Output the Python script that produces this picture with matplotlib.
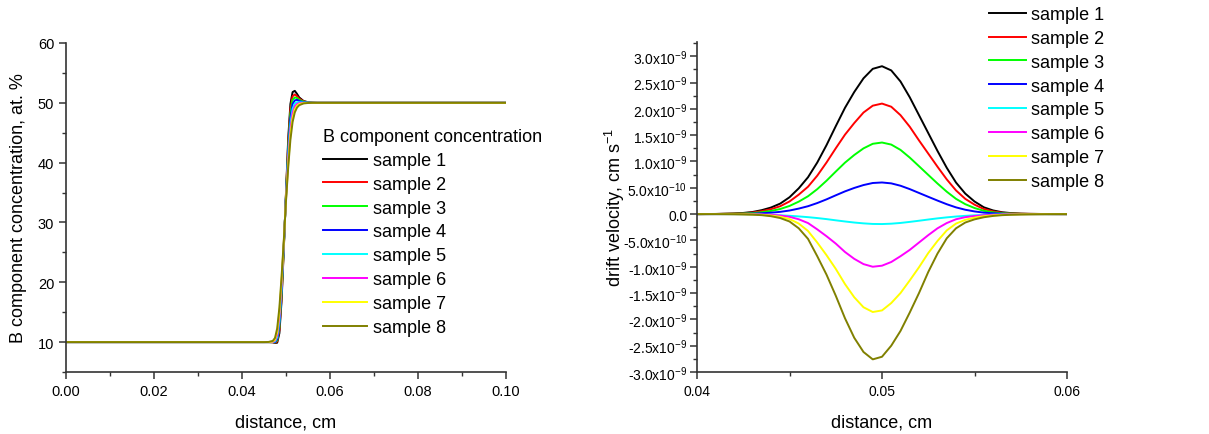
import numpy as np
import matplotlib
matplotlib.use('Agg')
from matplotlib import pyplot as plt
from matplotlib.ticker import MultipleLocator, FixedLocator, FuncFormatter

plt.rcParams['font.family'] = ['Liberation Sans', 'DejaVu Sans']
plt.rcParams['mathtext.default'] = 'regular'
plt.rcParams['axes.unicode_minus'] = False

labels = ['sample 1', 'sample 2', 'sample 3', 'sample 4',
          'sample 5', 'sample 6', 'sample 7', 'sample 8']
colors = ['#000000', '#ff0000', '#00ff00', '#0000ff',
          '#00ffff', '#ff00ff', '#ffff00', '#808000']

# ---- concentration profiles (at. %) ----
x_conc = [0.0, 0.045, 0.046, 0.047, 0.0475, 0.048, 0.0485, 0.049, 0.0495, 0.050, 0.0505,
          0.051, 0.0515, 0.052, 0.0525, 0.053, 0.054, 0.055, 0.056, 0.057, 0.06, 0.1]
c1 = [10, 10, 10, 9.97, 9.85, 9.9, 11.5, 17, 25.5, 35, 44, 49.8, 51.8, 52.0, 51.5, 50.9, 50.3, 50.1, 50.02, 50, 50, 50]
c2 = [10, 10, 10, 9.98, 9.9, 10.1, 12, 17.5, 25.8, 34.8, 43.3, 49, 51.1, 51.4, 51.1, 50.7, 50.25, 50.08, 50.02, 50, 50, 50]
c3 = [10, 10, 10, 10, 9.95, 10.3, 12.5, 18, 26, 34.6, 42.6, 48.2, 50.5, 50.9, 50.8, 50.5, 50.2, 50.06, 50.02, 50, 50, 50]
c4 = [10, 10, 10, 10, 10, 10.5, 13, 18.6, 26.2, 34.4, 41.9, 47.4, 49.8, 50.4, 50.5, 50.3, 50.1, 50.04, 50.01, 50, 50, 50]
c5 = [10, 10, 10, 10.02, 10.1, 10.8, 13.6, 19.2, 26.4, 34.2, 41.2, 46.5, 49.0, 49.9, 50.1, 50.1, 50.05, 50.02, 50, 50, 50, 50]
c6 = [10, 10, 10, 10.05, 10.25, 11.2, 14.3, 19.8, 26.6, 34, 40.5, 45.6, 48.3, 49.4, 49.8, 49.95, 50, 50, 50, 50, 50, 50]
c7 = [10, 10, 10, 10.1, 10.4, 11.7, 15, 20.4, 26.8, 33.8, 39.8, 44.7, 47.5, 48.9, 49.5, 49.8, 49.95, 50, 50, 50, 50, 50]
c8 = [10, 10, 10.02, 10.2, 10.7, 12.3, 15.8, 21, 27, 33.6, 39.2, 43.8, 46.8, 48.4, 49.2, 49.6, 49.9, 49.97, 50, 50, 50, 50]
conc = [c1, c2, c3, c4, c5, c6, c7, c8]

# ---- drift velocity (units of 1e-9 cm/s) ----
x_vel = [0.040, 0.041, 0.042, 0.0425, 0.043, 0.0435, 0.044, 0.0445, 0.045, 0.0455, 0.046, 0.0465,
         0.047, 0.0475, 0.048, 0.0485, 0.049, 0.0495, 0.050, 0.0505, 0.051, 0.0515, 0.052, 0.0525,
         0.053, 0.0535, 0.054, 0.0545, 0.055, 0.0555, 0.056, 0.0565, 0.057, 0.0575, 0.058, 0.059, 0.060]
v1 = [0, 0.003, 0.012, 0.022, 0.040, 0.075, 0.125, 0.20, 0.32, 0.49, 0.70, 0.98,
      1.31, 1.67, 2.02, 2.32, 2.58, 2.76, 2.81, 2.73, 2.52, 2.22, 1.88, 1.54,
      1.20, 0.88, 0.60, 0.39, 0.24, 0.13, 0.07, 0.035, 0.018, 0.009, 0.005, 0.001, 0]
v2 = [0, 0.002, 0.009, 0.016, 0.030, 0.056, 0.093, 0.15, 0.24, 0.37, 0.52, 0.73,
      0.98, 1.25, 1.51, 1.73, 1.93, 2.06, 2.10, 2.04, 1.88, 1.66, 1.40, 1.15,
      0.90, 0.66, 0.45, 0.29, 0.18, 0.097, 0.052, 0.026, 0.013, 0.007, 0.004, 0.001, 0]
v3 = [0, 0.0015, 0.006, 0.011, 0.019, 0.036, 0.060, 0.097, 0.155, 0.237, 0.339, 0.474,
      0.634, 0.808, 0.978, 1.123, 1.249, 1.336, 1.36, 1.321, 1.220, 1.074, 0.910, 0.745,
      0.581, 0.426, 0.290, 0.189, 0.116, 0.063, 0.034, 0.017, 0.009, 0.004, 0.002, 0.0005, 0]
v4 = [0, 0.0006, 0.0026, 0.0047, 0.0086, 0.016, 0.027, 0.043, 0.068, 0.105, 0.150, 0.210,
      0.280, 0.357, 0.432, 0.497, 0.552, 0.591, 0.601, 0.584, 0.539, 0.475, 0.402, 0.329,
      0.257, 0.188, 0.128, 0.083, 0.051, 0.028, 0.015, 0.0075, 0.004, 0.002, 0.001, 0.0002, 0]
v5 = [0, -0.0005, -0.002, -0.004, -0.007, -0.011, -0.016, -0.023, -0.032, -0.044, -0.058, -0.075,
      -0.095, -0.118, -0.140, -0.160, -0.176, -0.187, -0.189, -0.182, -0.168, -0.148, -0.126, -0.103,
      -0.081, -0.062, -0.046, -0.033, -0.023, -0.016, -0.011, -0.007, -0.0045, -0.003, -0.002, -0.0005, 0]
v6 = [0, 0, -0.0007, -0.0018, -0.0036, -0.007, -0.014, -0.027, -0.051, -0.098, -0.17, -0.29,
      -0.42, -0.56, -0.72, -0.85, -0.95, -1.00, -0.98, -0.91, -0.80, -0.68, -0.54, -0.40,
      -0.27, -0.17, -0.098, -0.058, -0.036, -0.022, -0.013, -0.007, -0.004, -0.0025, -0.0015, -0.0004, 0]
v7 = [0, 0, -0.0013, -0.0034, -0.0067, -0.013, -0.027, -0.051, -0.094, -0.18, -0.32, -0.54,
      -0.78, -1.04, -1.33, -1.58, -1.77, -1.86, -1.83, -1.69, -1.50, -1.26, -1.01, -0.74,
      -0.51, -0.31, -0.18, -0.11, -0.067, -0.04, -0.024, -0.013, -0.008, -0.005, -0.003, -0.001, 0]
v8 = [0, 0, -0.002, -0.005, -0.01, -0.02, -0.04, -0.075, -0.14, -0.27, -0.47, -0.80,
      -1.15, -1.55, -1.98, -2.35, -2.62, -2.76, -2.71, -2.50, -2.22, -1.87, -1.50, -1.10,
      -0.75, -0.46, -0.27, -0.16, -0.10, -0.06, -0.035, -0.02, -0.012, -0.007, -0.004, -0.001, 0]
vel = [v1, v2, v3, v4, v5, v6, v7, v8]

vel_ticks = [-3.0e-9, -2.5e-9, -2.0e-9, -1.5e-9, -1.0e-9, -5.0e-10, 0.0,
             5.0e-10, 1.0e-9, 1.5e-9, 2.0e-9, 2.5e-9, 3.0e-9]


def sci_label(v, pos=None):
    if abs(v) < 1e-15:
        return '0.0'
    e = int(np.floor(np.log10(abs(v)) + 1e-9))
    m = v / 10.0 ** e
    return '%.1fx10$^{%d}$' % (m, e)


def style_axes(ax, size):
    ax.spines['top'].set_visible(False)
    ax.spines['right'].set_visible(False)
    for s in ['left', 'bottom']:
        ax.spines[s].set_linewidth(1.2)
        ax.spines[s].set_color('#333333')
    ax.tick_params(which='major', direction='out', length=5, width=1.1,
                   colors='#333333', labelcolor='black', labelsize=size)
    ax.tick_params(which='minor', direction='out', length=3, width=1.0, colors='#333333')


fig = plt.figure(figsize=(12.09, 4.35), dpi=100)

# left panel
ax1 = fig.add_axes([66 / 1209, 1 - 373 / 435, 440 / 1209, 329 / 435])
for y, c, lab in zip(conc, colors, labels):
    ax1.plot(x_conc, y, color=c, lw=1.4, label=lab)
ax1.set_xlim(0, 0.1)
ax1.set_ylim(5, 60)
ax1.xaxis.set_major_locator(MultipleLocator(0.02))
ax1.xaxis.set_minor_locator(MultipleLocator(0.01))
ax1.yaxis.set_major_locator(FixedLocator([10, 20, 30, 40, 50, 60]))
ax1.yaxis.set_minor_locator(MultipleLocator(5))
ax1.xaxis.set_major_formatter(FuncFormatter(lambda v, p: '%.2f' % v))
style_axes(ax1, 10.5)
ax1.set_xlabel('distance, cm', fontsize=13)
ax1.set_ylabel('B component concentration, at. %', fontsize=13)
ax1.xaxis.set_label_coords(0.5, -0.125)
ax1.yaxis.set_label_coords(-0.088, 0.5)
leg1 = ax1.legend(loc='upper left', bbox_to_anchor=(323 / 1209, 1 - 129 / 435),
                  bbox_transform=fig.transFigure, frameon=False, fontsize=13,
                  title='B component concentration', title_fontsize=13,
                  handlelength=2.45, handletextpad=0.3, labelspacing=0.38,
                  borderpad=0, borderaxespad=0, alignment='left')

# right panel
ax2 = fig.add_axes([697 / 1209, 1 - 373 / 435, 370 / 1209, 330 / 435])
for y, c, lab in zip(vel, colors, labels):
    ax2.plot(x_vel, np.array(y) * 1e-9, color=c, lw=1.4, label=lab)
ax2.set_xlim(0.04, 0.06)
ax2.set_ylim(-3.0e-9, 3.27e-9)
ax2.xaxis.set_major_locator(FixedLocator([0.04, 0.05, 0.06]))
ax2.xaxis.set_minor_locator(FixedLocator([0.045, 0.055]))
ax2.xaxis.set_major_formatter(FuncFormatter(lambda v, p: '%.2f' % v))
ax2.yaxis.set_major_locator(FixedLocator(vel_ticks))
ax2.yaxis.set_minor_locator(MultipleLocator(2.5e-10))
ax2.yaxis.set_major_formatter(FuncFormatter(sci_label))
style_axes(ax2, 10)
ax2.tick_params(axis='y', which='major', pad=2)
ax2.set_xlabel('distance, cm', fontsize=13)
ax2.set_ylabel('drift velocity, cm s$^{-1}$', fontsize=13)
ax2.xaxis.set_label_coords(0.5, -0.125)
ax2.yaxis.set_label_coords(-0.19, 0.5)
leg2 = ax2.legend(loc='upper left', bbox_to_anchor=(989 / 1209, 1 - 7 / 435),
                  bbox_transform=fig.transFigure, frameon=False, fontsize=13,
                  handlelength=2.05, handletextpad=0.3, labelspacing=0.38,
                  borderpad=0, borderaxespad=0)

fig.savefig('out.png', dpi=100)
